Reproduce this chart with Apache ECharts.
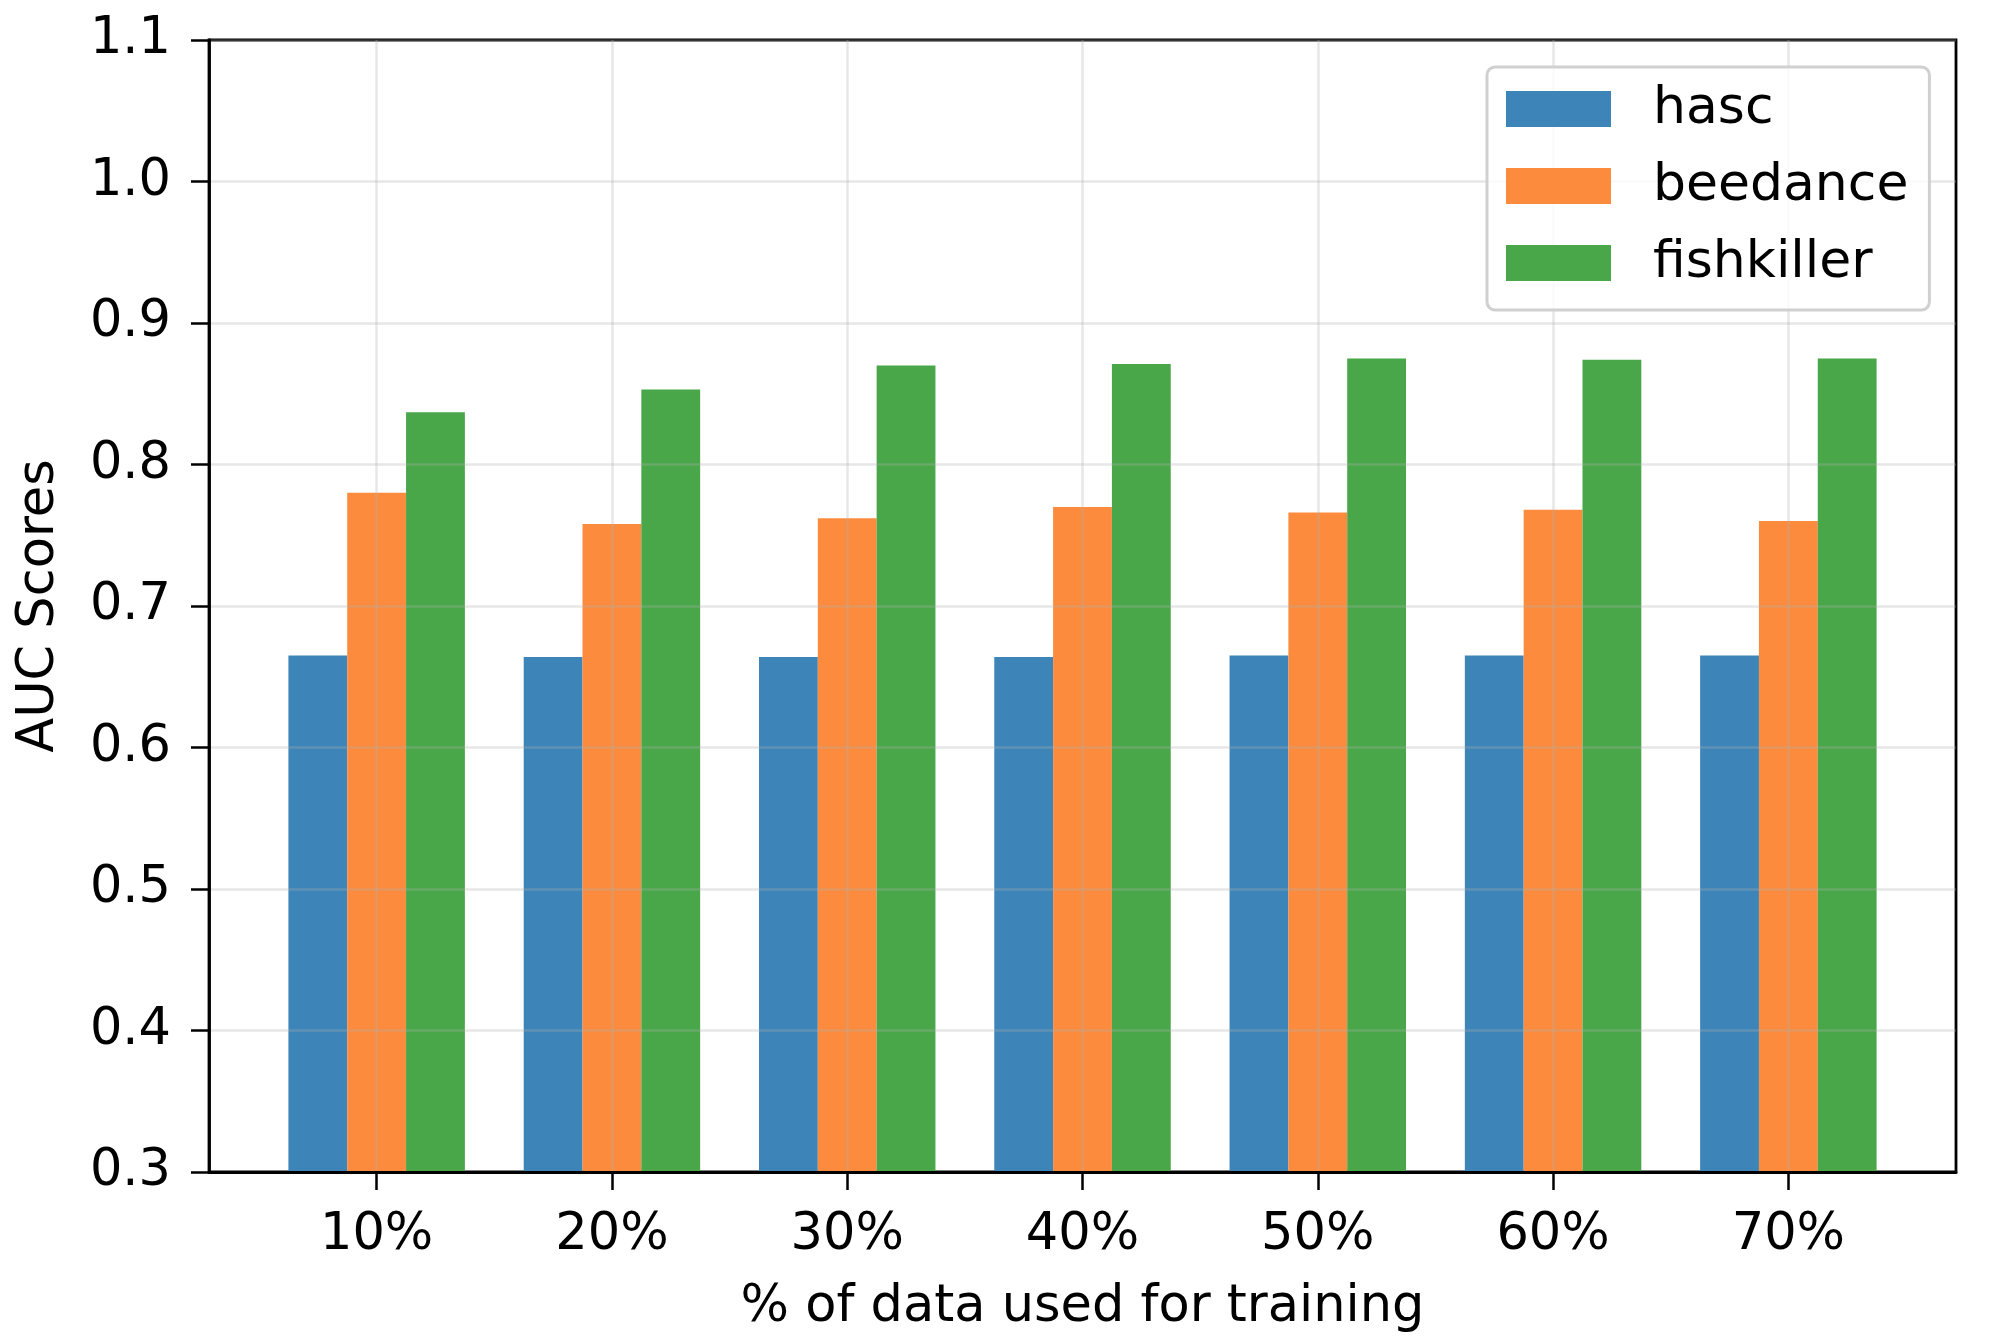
<!DOCTYPE html>
<html>
<head>
<meta charset="utf-8">
<script src="https://cdn.jsdelivr.net/npm/echarts@6/dist/echarts.min.js"></script>
<style>
html,body{margin:0;padding:0;background:#fff;}
#chart{width:2010px;height:1342px;}
</style>
</head>
<body>
<div id="chart"></div>
<script>
const categories = ['10%', '20%', '30%', '40%', '50%', '60%', '70%'];
const hasc = [0.665, 0.664, 0.664, 0.664, 0.665, 0.665, 0.665];
const beedance = [0.780, 0.758, 0.762, 0.770, 0.766, 0.768, 0.760];
const fishkiller = [0.837, 0.853, 0.870, 0.871, 0.875, 0.874, 0.875];
const yTicks = [0.3, 0.4, 0.5, 0.6, 0.7, 0.8, 0.9, 1.0, 1.1];

const positions = categories.map((c, i) => i);
const FONT = 'DejaVu Sans';
const chart = echarts.init(document.getElementById('chart'), null, {renderer: 'canvas'});

function mk(name, vals, color) {
  return {
    name: name,
    type: 'bar',
    data: vals.map((v, i) => [positions[i], v]),
    barWidth: '25%',
    barGap: '0%',
    itemStyle: {color: color},
    z: 2
  };
}

const option = {
  animation: false,
  backgroundColor: '#fff',
  textStyle: {fontFamily: FONT},
  grid: {
    left: 209, right: 54, top: 40, bottom: 170,
    show: true, borderColor: '#000', borderWidth: 2.8, backgroundColor: 'transparent'
  },
  legend: {
    show: true,
    orient: 'vertical',
    left: 1487, top: 67,
    itemWidth: 105, itemHeight: 36,
    itemGap: 25,
    padding: [16, 21, 21, 19],
    backgroundColor: 'rgba(255,255,255,0.8)',
    borderColor: '#d0d0d0', borderWidth: 3, borderRadius: 8,
    icon: 'rect',
    textStyle: {fontFamily: FONT, fontSize: 52, color: '#000', lineHeight: 50, padding: [0, 0, 0, 37]},
    data: ['hasc', 'beedance', 'fishkiller']
  },
  xAxis: {
    type: 'value',
    min: -0.7125, max: 6.7125,
    z: 3,
    name: '% of data used for training',
    nameLocation: 'middle',
    nameGap: 110,
    nameTextStyle: {fontFamily: FONT, fontSize: 51, color: '#000'},
    axisLine: {show: true, onZero: false, lineStyle: {color: '#000', width: 2.8}},
    axisTick: {show: true, inside: false, length: 18, lineStyle: {color: '#000', width: 2.5}, customValues: positions},
    axisLabel: {
      show: true, margin: 38, fontFamily: FONT, fontSize: 51, color: '#000',
      customValues: positions,
      formatter: v => categories[Math.round(v)] || ''
    },
    splitLine: {show: true, lineStyle: {color: 'rgba(176,176,176,0.3)', width: 2.5}}
  },
  yAxis: {
    type: 'value',
    min: 0.3, max: 1.1, interval: 0.1,
    z: 3,
    name: 'AUC Scores',
    nameLocation: 'middle',
    nameGap: 144,
    nameTextStyle: {fontFamily: FONT, fontSize: 51, color: '#000'},
    axisLine: {show: true, onZero: false, lineStyle: {color: '#000', width: 2.8}},
    axisTick: {show: true, inside: false, length: 18, lineStyle: {color: '#000', width: 2.5}},
    axisLabel: {
      show: true, margin: 38, fontFamily: FONT, fontSize: 51, color: '#000',
      formatter: v => v.toFixed(1)
    },
    splitLine: {show: true, lineStyle: {color: 'rgba(176,176,176,0.3)', width: 2.5}}
  },
  series: [
    mk('hasc', hasc, '#3d85b8'),
    mk('beedance', beedance, '#fc8b3d'),
    mk('fishkiller', fishkiller, '#49a74a')
  ]
};
chart.setOption(option);
</script>
</body>
</html>
